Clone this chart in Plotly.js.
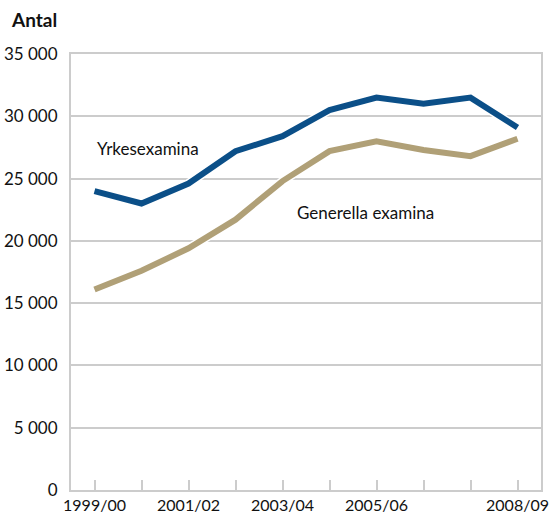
<!DOCTYPE html>
<html>
<head>
<meta charset="utf-8">
<script src="https://cdn.plot.ly/plotly-3.0.1.min.js"></script>
<style>html,body{margin:0;padding:0;background:#fff;}#chart{width:550px;height:515px;}</style>
</head>
<body>
<div id="chart"></div>
<script>
const years = ["1999/00","2000/01","2001/02","2002/03","2003/04","2004/05","2005/06","2006/07","2007/08","2008/09"];
const yrkesexamina = [24000, 23000, 24600, 27200, 28400, 30500, 31500, 31000, 31500, 29100];
const generellaExamina = [16100, 17600, 19400, 21700, 24800, 27200, 28000, 27300, 26800, 28200];
const xTickLabels = ["1999/00","","2001/02","","2003/04","","2005/06","","","2008/09"];
const yTickVals = [0, 5000, 10000, 15000, 20000, 25000, 30000, 35000];
const yTickText = ["0","5 000","10 000","15 000","20 000","25 000","30 000","35 000"];
const seriesNames = ["Yrkesexamina", "Generella examina"];

const FONT = "Lato, 'Open Sans', sans-serif";
const blue = "#0b4f88";
const tan = "#b0a077";

function outline(y){ return {x: years, y: y, mode: "lines", line: {color: "#ffffff", width: 9}, hoverinfo: "skip", showlegend: false}; }
function main(y, c, n){ return {x: years, y: y, mode: "lines", name: n, line: {color: c, width: 6}, showlegend: false}; }

const data = [
  outline(generellaExamina), main(generellaExamina, tan, seriesNames[1]),
  outline(yrkesexamina), main(yrkesexamina, blue, seriesNames[0])
];

const layout = {
  width: 550, height: 515,
  margin: {l: 71, r: 9, t: 54, b: 25},
  paper_bgcolor: "#fff", plot_bgcolor: "#fff",
  font: {family: FONT, size: 16, color: "#111"},
  title: {text: "<b>Antal</b>", x: 12/550, xanchor: "left", xref: "container", y: 1 - 20/515, yanchor: "middle", yref: "container", font: {family: FONT, size: 19, color: "#111"}},
  xaxis: {
    type: "category", range: [-0.5, 9.5],
    tickmode: "array", tickvals: years, ticktext: xTickLabels,
    ticks: "inside", ticklen: 10, tickwidth: 2, tickcolor: "#cccccc",
    showgrid: false, zeroline: false,
    showline: true, linecolor: "#cccccc", linewidth: 2, mirror: true,
    tickfont: {family: FONT, size: 16, color: "#111"}
  },
  yaxis: {
    range: [0, 35000], tickmode: "array", tickvals: yTickVals, ticktext: yTickText,
    showgrid: true, gridcolor: "#cccccc", gridwidth: 2, zeroline: false,
    showline: true, linecolor: "#cccccc", linewidth: 2, mirror: true,
    ticks: "", ticklabelstandoff: 8,
    tickfont: {family: FONT, size: 17, color: "#111"}
  },
  annotations: [
    {x: 0, y: 27450, xref: "x", yref: "y", text: seriesNames[0], showarrow: false, xanchor: "left", yanchor: "middle", font: {family: FONT, size: 17, color: "#111"}},
    {x: 4.26, y: 22240, xref: "x", yref: "y", text: seriesNames[1], showarrow: false, xanchor: "left", yanchor: "middle", font: {family: FONT, size: 17, color: "#111"}}
  ]
};

Plotly.newPlot("chart", data, layout, {displayModeBar: false, staticPlot: true});
</script>
</body>
</html>
